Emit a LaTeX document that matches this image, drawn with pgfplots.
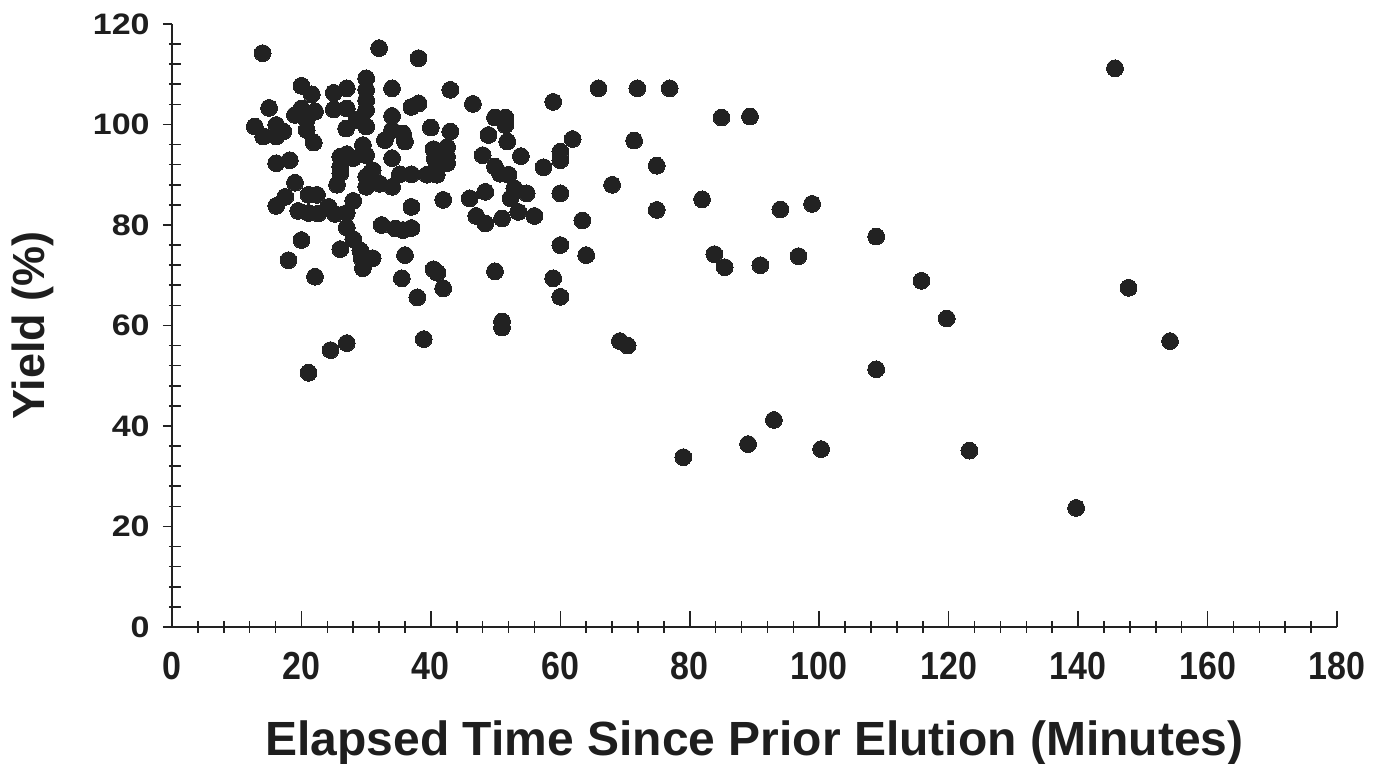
\documentclass[border=0pt]{standalone}
\usepackage{fontspec}
\setmainfont{Liberation Sans}
\usepackage{pgfplots}
\pgfplotsset{compat=1.18}
\definecolor{ink}{HTML}{222222}
\definecolor{txt}{HTML}{1E1E1E}

\begin{document}
\begin{tikzpicture}
\begin{axis}[
  at={(0,0)}, anchor=south west,
  scale only axis, width=582.5pt, height=301.5pt,
  xmin=0, xmax=180, ymin=0, ymax=120,
  axis x line=bottom, axis y line=left,
  axis line style={-, draw=ink, line width=1pt},
  xtick={0,20,...,180}, ytick={0,20,...,120},
  minor x tick num=4, minor y tick num=4,
  tick align=inside,
  major tick length=8pt, minor tick length=6pt,
  tick style={draw=ink, line width=0.8pt},
  minor x tick style={yshift=-3pt},
  minor y tick style={xshift=-1.5pt},
  major y tick style={draw=none},
  extra y ticks={0,20,...,120}, extra y tick labels={},
  extra y tick style={tick align=outside, major tick length=4.5pt, major y tick style={draw=ink}},
  /pgf/number format/assume math mode=true,
  xticklabel={\scalebox{1}[1.15]{\pgfmathprintnumber{\tick}}},
  yticklabel={\scalebox{1}[0.87]{\pgfmathprintnumber{\tick}}},
  ticklabel style={font=\fontsize{17}{17}\selectfont\bfseries, text=txt},
  xticklabel style={anchor=base, inner sep=0pt, yshift=-26.5pt},
  yticklabel style={anchor=east, inner sep=0pt, xshift=-11pt},
  xlabel={Elapsed Time Since Prior Elution (Minutes)},
  ylabel={Yield (\%)},
  xlabel style={at={(axis description cs:0.5,-0.2123)}, anchor=base, font=\fontsize{24}{24}\selectfont\bfseries, text=txt},
  ylabel style={at={(axis description cs:-0.1193,0.5)}, anchor=center, font=\fontsize{22.5}{22.5}\selectfont\bfseries, text=txt},
  clip=false,
]
\addplot[only marks, mark=*, mark size=4.2pt, mark options={fill=ink, draw=ink, line width=0pt}] table {
x y
14.0 114.2
32.0 115.2
20.0 107.7
21.6 106.0
25.0 106.3
27.0 107.2
30.0 109.2
30.0 106.9
30.0 104.8
30.0 102.9
34.0 107.2
15.0 103.3
19.0 101.9
20.0 103.2
22.1 102.6
20.8 100.9
25.0 103.0
27.0 103.2
26.9 99.2
28.5 100.9
30.0 99.6
34.0 101.7
37.0 103.5
38.1 104.2
12.8 99.6
14.1 97.6
16.1 99.9
16.1 97.6
17.2 98.6
20.8 98.9
21.9 96.4
32.9 96.9
34.0 98.9
35.7 98.2
36.0 96.6
29.5 95.9
16.1 92.3
18.2 92.9
26.0 93.6
27.0 94.1
26.0 91.6
28.0 93.3
30.0 93.9
26.0 90.3
31.0 90.9
30.0 89.6
34.0 93.3
35.2 90.1
37.0 90.1
19.0 88.4
25.5 88.0
30.0 87.6
32.1 88.2
34.0 87.6
17.5 85.6
21.1 86.0
22.4 86.0
28.0 84.8
16.1 83.8
19.5 82.8
21.1 82.4
22.6 82.3
24.2 83.6
25.2 82.2
27.0 82.4
27.0 79.5
28.0 77.2
29.1 74.9
29.3 73.4
31.0 73.4
29.5 71.4
20.0 77.0
26.0 75.2
18.0 73.0
22.1 69.7
32.4 80.0
34.5 79.3
35.7 79.0
37.0 79.4
36.0 74.0
35.5 69.4
27.0 56.5
24.5 55.1
21.1 50.6
37.0 83.6
38.1 113.2
43.0 106.9
46.5 104.1
58.9 104.5
49.9 101.4
51.5 101.4
51.5 99.9
40.0 99.4
43.0 98.6
48.9 97.9
51.8 96.6
61.9 97.1
40.4 95.1
42.5 95.5
42.5 93.6
40.6 93.3
42.5 92.3
40.8 92.5
48.0 93.9
53.9 93.7
60.0 94.6
60.0 92.9
39.4 90.0
40.9 90.0
49.9 91.6
50.7 90.2
52.0 90.0
57.4 91.5
48.4 86.6
52.9 87.3
54.8 86.3
60.0 86.3
41.9 85.0
46.0 85.3
52.3 85.3
53.5 82.6
47.0 81.8
48.4 80.3
51.0 81.3
56.0 81.8
40.4 71.2
41.0 70.5
41.9 67.4
37.9 65.6
49.9 70.8
60.0 76.0
58.9 69.4
60.0 65.7
51.0 60.8
51.0 59.6
38.9 57.3
65.9 107.2
71.9 107.2
76.9 107.2
84.9 101.4
89.3 101.6
71.4 96.8
74.9 91.8
68.0 88.0
81.9 85.1
74.9 83.0
94.0 83.1
63.4 80.9
64.0 74.0
83.8 74.2
85.4 71.6
90.9 72.0
69.2 56.9
70.4 56.0
98.9 84.2
108.8 77.7
96.8 73.8
115.8 68.9
119.7 61.4
108.8 51.3
100.3 35.4
123.2 35.1
93.0 41.2
89.0 36.4
79.0 33.8
139.7 23.7
145.7 111.2
147.8 67.5
154.2 56.9
};
\end{axis}
\pgfresetboundingbox
\path[use as bounding box] (-86pt,-68.5pt) rectangle (603pt,313.5pt);
\end{tikzpicture}
\end{document}
